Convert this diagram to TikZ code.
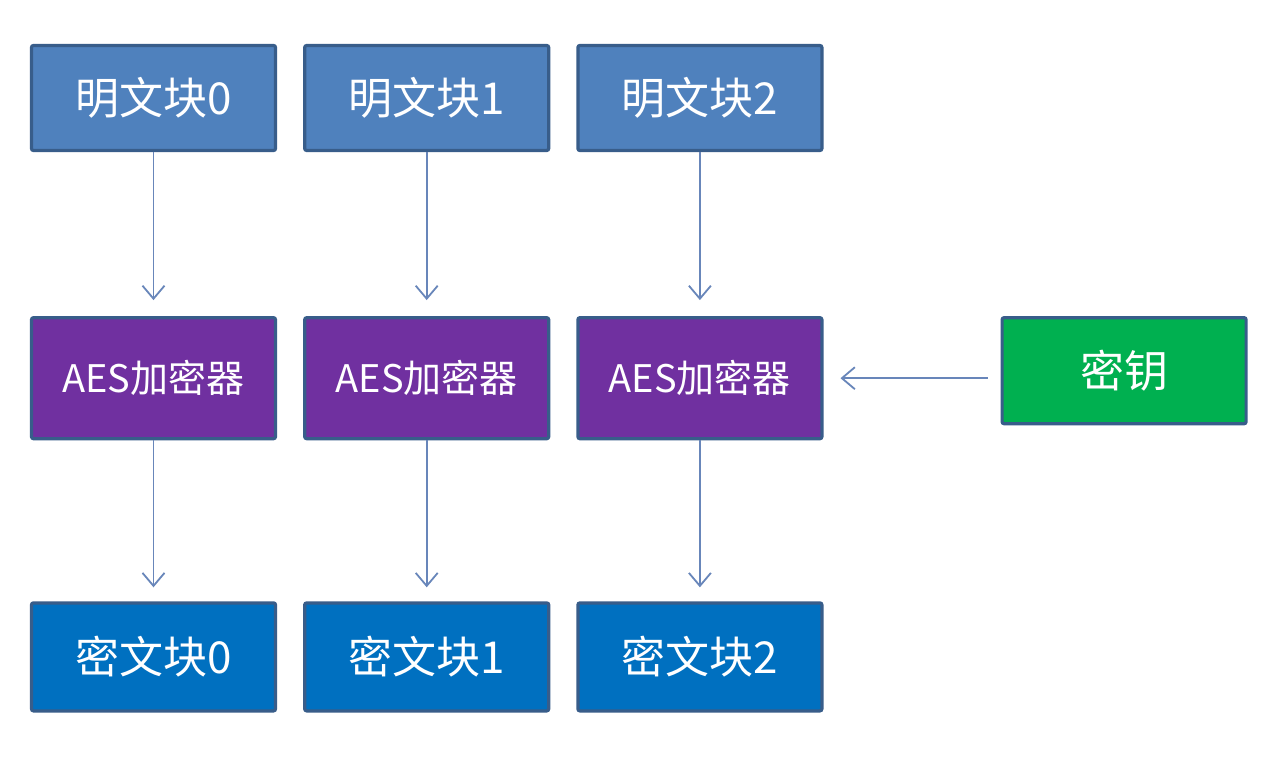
\documentclass[tikz,border=0pt]{standalone}
\usepackage{fontspec}
\setmainfont{Noto Sans CJK SC}
\usetikzlibrary{arrows.meta,positioning}
\definecolor{edge}{RGB}{56,93,138}
\definecolor{plain}{RGB}{79,129,189}
\definecolor{aes}{RGB}{112,48,160}
\definecolor{ciph}{RGB}{0,112,192}
\definecolor{keyg}{RGB}{0,176,80}
\definecolor{link}{RGB}{104,134,186}
\tikzset{
  blk/.style={draw=edge,line width=3.2pt,rounded corners=2pt,text=white,
    minimum width=244pt,inner sep=0pt,align=center},
  ptxt/.style={blk,fill=plain,minimum height=105pt,font=\fontsize{44}{44}\selectfont},
  enc/.style={blk,fill=aes,minimum height=121pt,font=\fontsize{38}{38}\selectfont},
  ctxt/.style={blk,fill=ciph,minimum height=108pt,font=\fontsize{44}{44}\selectfont},
  keybox/.style={blk,fill=keyg,minimum height=106pt,font=\fontsize{44}{44}\selectfont},
  arr/.style={-{Straight Barb[length=13pt,width=22pt]},line width=1.8pt,link},
}

\begin{document}
\begin{tikzpicture}[x=1pt,y=-1pt]
  \fill[white] (0,0) rectangle (1286,770);
  \useasboundingbox (0,0) rectangle (1286,770);
  % plaintext blocks
  \node[ptxt] (p0) at (153.5,98) {明文块0};
  \node[ptxt,right=26pt of p0] (p1) {明文块1};
  \node[ptxt,right=26pt of p1] (p2) {明文块2};
  % encryptors
  \node[enc,below=164pt of p0] (e0) {AES加密器};
  \node[enc,below=164pt of p1] (e1) {AES加密器};
  \node[enc,below=164pt of p2] (e2) {AES加密器};
  % ciphertext blocks
  \node[ctxt,below=161pt of e0] (c0) {密文块0};
  \node[ctxt,below=161pt of e1] (c1) {密文块1};
  \node[ctxt,below=161pt of e2] (c2) {密文块2};
  % key
  \node[keybox,right=177pt of e2,yshift=7.5pt] (key) {密钥};
  \foreach \i in {0,1,2}{
    \draw[arr,shorten >=16pt] (p\i) -- (e\i);
    \draw[arr,shorten >=14pt] (e\i) -- (c\i);
  }
  \draw[arr,shorten <=13pt,shorten >=17pt] (key.west |- e2.east) -- (e2.east);
\end{tikzpicture}
\end{document}
